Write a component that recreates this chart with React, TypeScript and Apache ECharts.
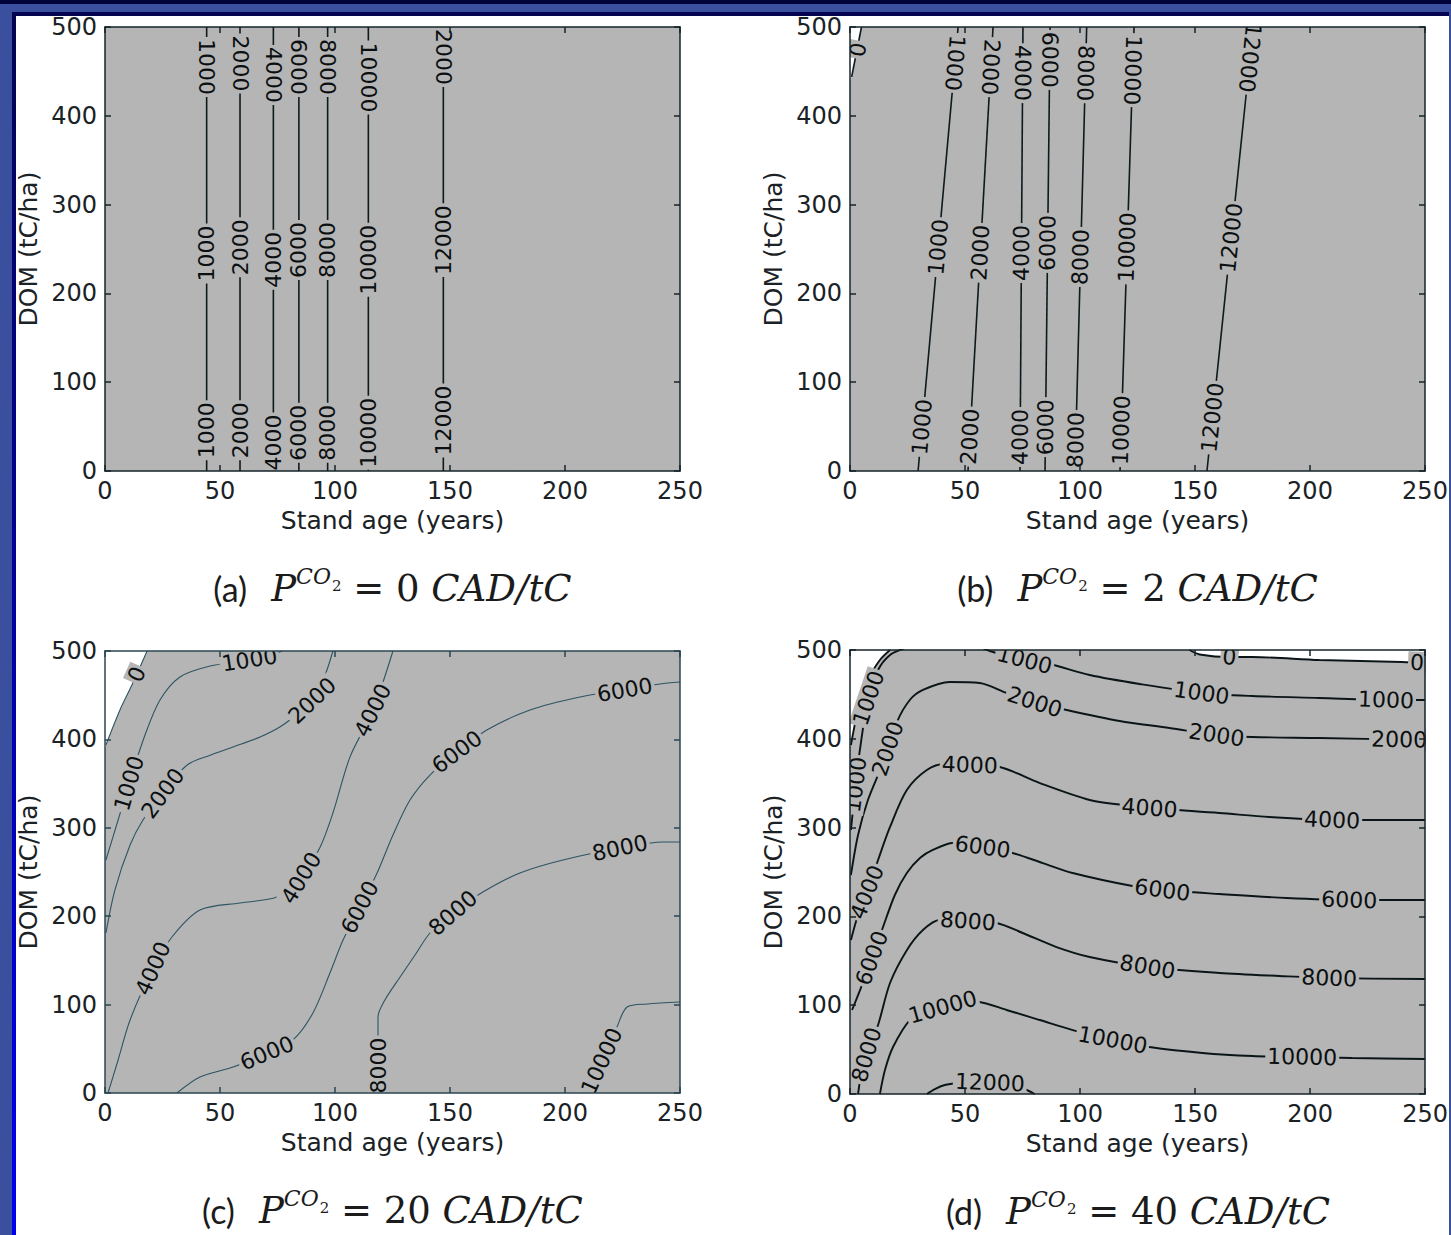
import React, { useEffect, useRef } from 'react';
import * as echarts from 'echarts';

// ---------- data: contour polylines [stand age (years), DOM (tC/ha)] ----------
// (a) P = 0 CAD/tC
const a1000 = [[44.2, 0], [44.2, 500]];
const a2000 = [[58.7, 0], [58.7, 500]];
const a4000 = [[73.2, 0], [73.2, 500]];
const a6000 = [[84.3, 0], [84.3, 500]];
const a8000 = [[96.8, 0], [96.8, 500]];
const a10000 = [[114.5, 0], [114.5, 500]];
const a12000 = [[147.1, 0], [147.1, 500]];
// [level, age, DOM, reversed reading]
const aLabels = [
  [1000, 44.2, 455, 1], [1000, 44.2, 245, 0], [1000, 44.2, 46, 0],
  [2000, 58.7, 459, 1], [2000, 58.7, 252, 0], [2000, 58.7, 46, 0],
  [4000, 73.2, 446, 1], [4000, 73.2, 238, 0], [4000, 73.2, 32, 0],
  [6000, 84.3, 455, 1], [6000, 84.3, 249, 0], [6000, 84.3, 43, 0],
  [8000, 96.8, 455, 1], [8000, 96.8, 249, 0], [8000, 96.8, 43, 0],
  [10000, 114.5, 443, 1], [10000, 114.5, 238, 0], [10000, 114.5, 43, 0],
  [12000, 147.1, 474, 1], [12000, 147.1, 260, 0], [12000, 147.1, 57, 0],
];

// (b) P = 2 CAD/tC
const b0 = [[0.7, 443.7], [5.0, 500]];
const b1000 = [[29.6, 0], [47.0, 500]];
const b2000 = [[51.3, 0], [62.2, 500]];
const b4000 = [[73.9, 0], [75.2, 500]];
const b6000 = [[84.8, 0], [87.0, 500]];
const b8000 = [[97.8, 0], [102.9, 500]];
const b10000 = [[117.4, 0], [123.5, 500]];
const b12000 = [[155.2, 0], [175.3, 500]];
const bNeg = [[0, 440], [0.7, 443.7], [5.0, 500], [0, 500]];
const bLabels = [
  [0, 4.3, 474, 1],
  [1000, 45.7, 459.5, 1], [1000, 39.1, 252, 0], [1000, 31.7, 49.5, 0],
  [2000, 60, 455, 1], [2000, 58.7, 245.5, 0], [2000, 55.2, 38.3, 0],
  [4000, 75.2, 448, 1], [4000, 74.8, 245.5, 0], [4000, 73.9, 38.3, 0],
  [6000, 86.5, 463, 1], [6000, 86, 256.8, 0], [6000, 84.8, 49.5, 0],
  [8000, 101.3, 448, 1], [8000, 100, 241, 0], [8000, 97.8, 35, 0],
  [10000, 119.6, 451.6, 1], [10000, 119.6, 252, 0], [10000, 118.3, 46, 0],
  [12000, 171.7, 466, 1], [12000, 162.2, 263.5, 0], [12000, 155.2, 60.8, 0],
];

// (c) P = 20 CAD/tC
const c0 = [[0.4, 393.7], [6.5, 433.3], [11.7, 461.5], [18.3, 500]];
const c1000 = [[0.4, 263.6], [5.7, 308.8], [10.9, 354], [17.4, 405], [23.9, 444.6], [32.6, 470.6], [45.7, 483], [63, 490], [76, 499], [78, 503]];
const c2000 = [[0.4, 181], [4.3, 229.6], [10.9, 280.5], [16.5, 308.8], [25.2, 339.4], [35.7, 371], [45.7, 382], [55.7, 391.4], [67.4, 402.7], [76, 414], [84.8, 431], [90.4, 444.6], [95.7, 472.9], [99.1, 500]];
const c4000 = [[1.3, 0], [5.7, 37.3], [10.9, 82.6], [20.9, 141], [29.1, 176.5], [41.3, 207], [58.7, 215], [74.8, 221.7], [84.8, 241], [93.5, 278], [99.1, 316.7], [106.5, 380], [116.5, 433], [125.2, 500]];
const c6000 = [[31.3, 0], [41.3, 18.1], [55.7, 29.4], [70.4, 45.2], [81.7, 60], [90.4, 90.5], [97.8, 135.7], [103.5, 173], [110.9, 210.4], [118.3, 248.9], [125.2, 291.9], [132.6, 331.4], [141.3, 359.7], [153, 385.7], [166, 410.6], [184.8, 433.3], [206.5, 448], [226, 455.9], [241.3, 462.7], [250, 465]];
const c8000 = [[118.7, 0], [118.7, 37.3], [118.7, 86], [121.7, 105.2], [128.3, 131.2], [134.8, 156.1], [141.3, 181], [151.3, 203.6], [164.3, 227.4], [180.4, 248.9], [199.1, 263.6], [223.9, 277.1], [242.6, 284], [250, 284]];
const c10000 = [[207.8, 0], [215.2, 31.7], [222.6, 74.7], [227, 97.3], [235.7, 100.7], [250, 103]];
const cNeg = [[0, 390], [0.4, 393.7], [6.5, 433.3], [11.7, 461.5], [18.3, 500], [0, 500]];
const cLabels = [
  [0, 14.3, 473, 0],
  [1000, 10.9, 350, 0], [1000, 63, 487, 0],
  [2000, 25.2, 339, 0], [2000, 90.4, 443, 0],
  [4000, 20.9, 141, 0], [4000, 84.8, 244, 0], [4000, 116.5, 433, 0],
  [6000, 70.4, 45, 0], [6000, 110.9, 210, 0], [6000, 153, 386, 0], [6000, 226, 456, 0],
  [8000, 118.7, 31, 0], [8000, 151.3, 203.6, 0], [8000, 223.9, 277, 0],
  [10000, 215.2, 37, 0],
];

// (d) P = 40 CAD/tC
const d0Left = [[0.4, 393], [3.5, 432.4], [7.8, 466.2], [13, 488.7], [17.4, 500]];
const d0Top = [[147.6, 500], [152, 495], [165, 492.1], [175, 492.1], [204, 488.7], [240, 486.5], [250, 485.4]];
const d1000 = [[0.4, 297.3], [2.2, 342.3], [4.3, 387.4], [7.8, 443.7], [12.2, 477.5], [17.4, 494.4], [23.9, 502.3], [40, 520], [60.8, 498.9], [76, 488.7], [86.8, 484.2], [104.2, 471.8], [125.9, 461.7], [152.8, 451.6], [174.9, 448.2], [204, 446], [233, 443.7], [250, 443.7]];
const d2000 = [[0.4, 246.6], [3.5, 291.7], [7.8, 331.1], [14.3, 372.7], [20.4, 418.9], [26, 443.7], [31.7, 455], [43.4, 464], [56.4, 462.8], [68.1, 451.6], [80.3, 441.4], [94.2, 432.4], [117.2, 420], [138.9, 412.2], [159.3, 404.3], [174.9, 402], [204, 400.9], [250, 398.6]];
const d4000 = [[0.4, 173.4], [3.5, 201.6], [7.8, 229.7], [12.2, 263.5], [17.4, 300.7], [24.7, 342.3], [33.4, 364.9], [41.2, 371.6], [52.1, 370.5], [65.1, 368.2], [82.5, 350.2], [104.2, 331.1], [118.5, 325.5], [130.2, 322.1], [160.6, 316.4], [182.3, 311.9], [209.6, 308.6], [250, 308.6]];
const d6000 = [[0.9, 94.6], [5.2, 122.7], [9.5, 153.2], [13.9, 184.7], [19.5, 224.1], [24.7, 248.9], [30.4, 265.8], [36, 274.8], [44.7, 282.7], [57.7, 278.2], [70.7, 271.4], [83.8, 260.1], [96.8, 248.9], [122.8, 234.2], [135.8, 229.7], [160.6, 225.2], [189.7, 220.7], [217, 218.5], [250, 218.5]];
const d8000 = [[3.5, 0], [5.2, 27], [7.8, 49.5], [12.2, 77.7], [17.4, 125], [24.7, 162], [31.7, 184.7], [39, 196], [51.2, 194.8], [63.8, 192.6], [75.1, 181.3], [89.8, 165.5], [104.2, 154.3], [129.3, 143], [160.6, 136.3], [186.6, 132.9], [208.3, 130.6], [250, 129.5]];
const d10000 = [[13, 0], [15.2, 27], [18.7, 52.9], [26, 83.3], [32.6, 92.3], [40.4, 98], [47.7, 102.5], [55.1, 103.6], [68.1, 94.6], [82.5, 83.3], [96.8, 72], [114.1, 60.8], [130.2, 52.9], [153.2, 46.2], [174.9, 42.8], [196.6, 41.7], [218.3, 40.5], [250, 39.4]];
const d12000 = [[33.4, 0], [36.9, 5.6], [41.2, 10.1], [46.9, 12.4], [54.3, 13.5], [65.1, 12.4], [73.8, 7.9], [80.3, 0]];
const dNegLeft = [[0, 390], ...d0Left, [0, 500]];
const dNegTop = [...d0Top, [250, 500]];
const dLabels = [
  [0, 165, 494.4, 0], [0, 246.5, 485.4, 0],
  [1000, 7.8, 446, 0], [1000, 3, 348, 0], [1000, 76, 489.9, 0], [1000, 152.8, 451.6, 0], [1000, 233, 443.7, 0],
  [2000, 18.2, 387.4, 0], [2000, 80.3, 441.4, 0], [2000, 159.3, 404.3, 0], [2000, 238.7, 398.6, 0],
  [4000, 8.2, 226.4, 0], [4000, 52.1, 370.5, 0], [4000, 130.2, 322, 0], [4000, 209.6, 308.6, 0],
  [6000, 9.5, 153, 0], [6000, 57.7, 279.3, 0], [6000, 135.8, 230.9, 0], [6000, 217, 218.5, 0],
  [8000, 7.4, 44, 0], [8000, 51.2, 193.7, 0], [8000, 129.3, 143, 0], [8000, 208.3, 130.6, 0],
  [10000, 40.4, 96.8, 0], [10000, 114.1, 59.7, 0], [10000, 196.6, 41.7, 0],
  [12000, 60.8, 12.4, 0],
];

const PRICES = [0, 2, 20, 40];
const LETTERS = ['a', 'b', 'c', 'd'];
const AGE_MAX = 250;
const DOM_MAX = 500;

// ---------- layout / style ----------
const GRIDS = [
  { left: 105, top: 27, width: 575, height: 444 },
  { left: 850, top: 27, width: 575, height: 444 },
  { left: 105, top: 651, width: 575, height: 442 },
  { left: 850, top: 650, width: 576, height: 444 },
];
const CAPTION_Y = [588, 588, 1210, 1211];
const GRAY = '#b5b5b5';
const AXIS = '#16252b';
const TEXT = '#1a2226';
const FONT = '"DejaVu Sans", sans-serif';

const PANELS = [
  {
    contours: [[1000, a1000], [2000, a2000], [4000, a4000], [6000, a6000], [8000, a8000], [10000, a10000], [12000, a12000]],
    labels: aLabels, negs: [], color: '#0e1a1e', width: 1.6, smooth: 0,
  },
  {
    contours: [[0, b0], [1000, b1000], [2000, b2000], [4000, b4000], [6000, b6000], [8000, b8000], [10000, b10000], [12000, b12000]],
    labels: bLabels, negs: [bNeg], color: '#0e1a1e', width: 1.6, smooth: 0,
  },
  {
    contours: [[0, c0], [1000, c1000], [2000, c2000], [4000, c4000], [6000, c6000], [8000, c8000], [10000, c10000]],
    labels: cLabels, negs: [cNeg], color: '#2d5462', width: 1.1, smooth: 0.3,
  },
  {
    contours: [[0, d0Left], [0, d0Top], [1000, d1000], [2000, d2000], [4000, d4000], [6000, d6000], [8000, d8000], [10000, d10000], [12000, d12000]],
    labels: dLabels, negs: [dNegLeft, dNegTop], color: '#0b1518', width: 1.9, smooth: 0.3,
  },
];

// snap a label onto its contour and find the text angle (in screen space)
function placeLabel(contours: any[], lab: number[], g: any) {
  const [level, lx, ly, flip] = lab;
  const sx = g.width / AGE_MAX;
  const sy = g.height / DOM_MAX;
  let best: any = null;
  contours.forEach(([lv, pts]: any) => {
    if (lv !== level) return;
    for (let k = 0; k < pts.length - 1; k++) {
      const x1 = pts[k][0] * sx, y1 = pts[k][1] * sy;
      const x2 = pts[k + 1][0] * sx, y2 = pts[k + 1][1] * sy;
      const px = lx * sx, py = ly * sy;
      const dx = x2 - x1, dy = y2 - y1;
      const len2 = dx * dx + dy * dy || 1;
      let t = ((px - x1) * dx + (py - y1) * dy) / len2;
      t = Math.max(0, Math.min(1, t));
      const cx = x1 + t * dx, cy = y1 + t * dy;
      const d = (cx - px) ** 2 + (cy - py) ** 2;
      if (!best || d < best.d) best = { d, cx, cy, ang: (Math.atan2(dy, dx) * 180) / Math.PI };
    }
  });
  if (!best) return [lx, ly, 0];
  let a = best.ang;
  while (a > 90) a -= 180;
  while (a <= -90) a += 180;
  if (flip) a = a > 0 ? a - 180 : a + 180;
  return [best.cx / sx, best.cy / sy, a];
}

function buildOption() {
  const xAxis: any[] = [];
  const yAxis: any[] = [];
  const series: any[] = [];
  const lineCommon = (color: string) => ({
    axisLine: { show: true, onZero: false, lineStyle: { color, width: 1.5 } },
    axisTick: { show: true, inside: true, length: 6, lineStyle: { color, width: 1.5 } },
    splitLine: { show: false },
    z: 10,
  });
  GRIDS.forEach((g, i) => {
    const axc = i === 2 ? '#2a4652' : AXIS;
    xAxis.push({
      gridIndex: i, type: 'value', min: 0, max: AGE_MAX, interval: 50, position: 'bottom',
      name: 'Stand age (years)', nameLocation: 'middle', nameGap: 37,
      nameTextStyle: { fontFamily: FONT, fontSize: 25, color: TEXT },
      axisLabel: { fontFamily: FONT, fontSize: 24, color: TEXT, margin: 8 },
      ...lineCommon(axc),
    });
    xAxis.push({
      gridIndex: i, type: 'value', min: 0, max: AGE_MAX, interval: 50, position: 'top',
      axisLabel: { show: false }, ...lineCommon(axc),
    });
    yAxis.push({
      gridIndex: i, type: 'value', min: 0, max: DOM_MAX, interval: 100, position: 'left',
      name: 'DOM (tC/ha)', nameLocation: 'middle', nameGap: 64,
      nameTextStyle: { fontFamily: FONT, fontSize: 25, color: TEXT },
      axisLabel: { fontFamily: FONT, fontSize: 24, color: TEXT, margin: 8 },
      ...lineCommon(axc),
    });
    yAxis.push({
      gridIndex: i, type: 'value', min: 0, max: DOM_MAX, interval: 100, position: 'right',
      axisLabel: { show: false }, ...lineCommon(axc),
    });

    const P = PANELS[i];
    const xi = 2 * i;
    if (P.negs.length) {
      const negs = P.negs;
      series.push({
        type: 'custom', xAxisIndex: xi, yAxisIndex: xi, silent: true, clip: true, z: 1,
        data: negs.map((p: any, k: number) => [p[0][0], p[0][1], k]),
        renderItem: (params: any, api: any) => {
          const poly = negs[params.dataIndex];
          return {
            type: 'polygon',
            shape: { points: poly.map((p: number[]) => api.coord(p)) },
            style: { fill: '#ffffff', stroke: 'none' },
          };
        },
      });
    }
    P.contours.forEach(([lv, pts]: any) => {
      series.push({
        type: 'line', xAxisIndex: xi, yAxisIndex: xi, name: String(lv), data: pts,
        showSymbol: false, symbol: 'none', silent: true, clip: true, smooth: P.smooth, z: 2,
        lineStyle: { color: P.color, width: P.width },
      });
    });
    const placed = P.labels.map((lab: any) => placeLabel(P.contours, lab, g));
    const texts = P.labels.map((lab: any) => String(lab[0]));
    series.push({
      type: 'custom', xAxisIndex: xi, yAxisIndex: xi, silent: true, clip: true, z: 3,
      data: placed.map((p: number[], k: number) => [p[0], p[1], p[2], k]),
      renderItem: (params: any, api: any) => {
        const pt = api.coord([api.value(0), api.value(1)]);
        return {
          type: 'text',
          x: pt[0], y: pt[1],
          rotation: (api.value(2) * Math.PI) / 180,
          style: {
            text: texts[params.dataIndex],
            fill: '#0b0f10',
            fontFamily: 'DejaVu Sans',
            fontSize: 22,
            align: 'center', verticalAlign: 'middle',
            textAlign: 'center', textVerticalAlign: 'middle',
            backgroundColor: GRAY,
            padding: [0, 2],
          },
        };
      },
    });
  });

  const INK = '#1b1b1b';
  const graphic = GRIDS.map((g, i) => ({
    type: 'text',
    x: g.left + g.width / 2,
    y: CAPTION_Y[i],
    style: {
      text: `{l|(${LETTERS[i]})}{g| }{i|P}{sup|CO}{sub|2}{r| = ${PRICES[i]} }{i|CAD/tC}`,
      align: 'center', verticalAlign: 'middle',
      textAlign: 'center', textVerticalAlign: 'middle',
      rich: {
        l: { fontFamily: 'Lato', fontSize: 34, fill: INK, color: INK, lineHeight: 46 },
        g: { fontFamily: 'Lato', fontSize: 34, width: 24, lineHeight: 46 },
        i: { fontFamily: 'DejaVu Serif', fontStyle: 'italic', fontSize: 37, fill: INK, color: INK, lineHeight: 46 },
        r: { fontFamily: 'DejaVu Serif', fontSize: 37, fill: INK, color: INK, lineHeight: 46 },
        sup: { fontFamily: 'DejaVu Serif', fontStyle: 'italic', fontSize: 22, fill: INK, color: INK, verticalAlign: 'top', lineHeight: 24 },
        sub: { fontFamily: 'DejaVu Serif', fontSize: 15, fill: INK, color: INK, verticalAlign: 'top', lineHeight: 16, padding: [13, 0, 0, 1] },
      },
    },
  }));

  return {
    animation: false,
    backgroundColor: 'transparent',
    grid: GRIDS.map((g) => ({ ...g, show: true, backgroundColor: GRAY, borderWidth: 0, containLabel: false })),
    xAxis,
    yAxis,
    series,
    graphic,
  };
}

export default function App() {
  const ref = useRef<HTMLDivElement>(null);
  useEffect(() => {
    const chart = echarts.init(ref.current as HTMLDivElement, null, { renderer: 'svg' });
    chart.setOption(buildOption() as any);
    return () => chart.dispose();
  }, []);
  return (
    <div style={{ position: 'fixed', left: 0, top: 0, width: 1451, height: 1235, overflow: 'hidden', background: 'linear-gradient(#02023a, #0000ff)' }}>
      <div style={{ position: 'absolute', left: 0, top: 4, right: 0, bottom: 0, background: '#3a4f9e' }} />
      <div style={{ position: 'absolute', left: 12, top: 12, width: 1437, bottom: 0, background: 'linear-gradient(#040450, #0000f0)' }} />
      <div style={{ position: 'absolute', left: 16, top: 16, width: 1433, bottom: 0, background: '#ffffff' }} />
      <div ref={ref} style={{ position: 'absolute', left: 0, top: 0, width: 1451, height: 1235 }} />
    </div>
  );
}
